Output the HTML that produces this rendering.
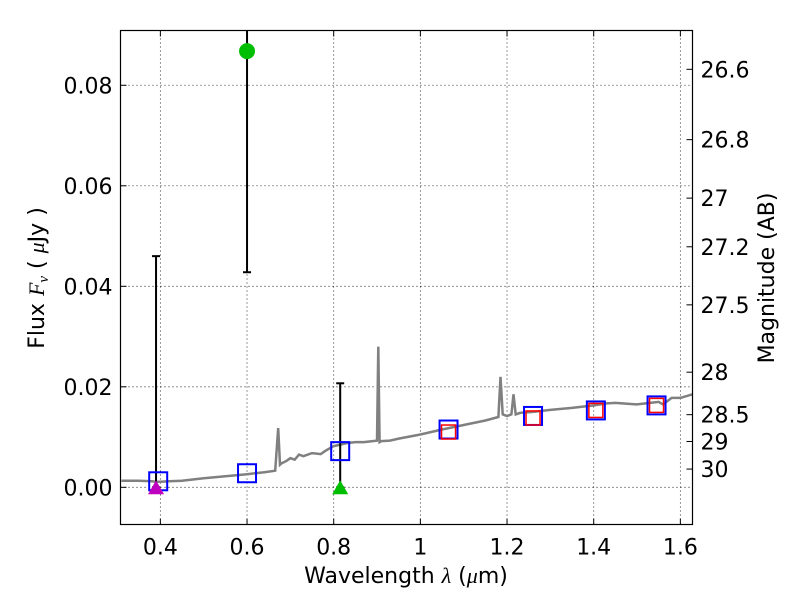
<!DOCTYPE html>
<html><head><meta charset="utf-8"><style>body{margin:0;background:#fff}svg{display:block}text{font-family:"DejaVu Sans","Liberation Sans",sans-serif;fill:#000}</style></head>
<body>
<svg id="chart" width="800" height="600" viewBox="0 0 800 600" xmlns="http://www.w3.org/2000/svg">
<rect width="800" height="600" fill="#fff"/>
<g id="grid"></g>
<g id="marks"></g>
<rect x="120.5" y="30.5" width="572" height="494" fill="none" stroke="#000" stroke-width="1.2"/>
<g id="axes"></g>
<text x="406" y="583" font-size="22" text-anchor="middle">Wavelength  <tspan font-style="italic" font-family="Liberation Serif,serif">λ</tspan> (<tspan font-style="italic" font-family="Liberation Serif,serif">μ</tspan>m)</text>
<text transform="translate(44,278) rotate(-90)" font-size="22" text-anchor="middle">Flux  <tspan font-style="italic" font-family="Liberation Serif,serif">F</tspan><tspan font-style="italic" font-family="Liberation Serif,serif" font-size="15" dy="4">ν</tspan><tspan dy="-4">  (  </tspan><tspan font-style="italic" font-family="Liberation Serif,serif">μ</tspan>Jy )</text>
<text transform="translate(774,278) rotate(-90)" font-size="22" text-anchor="middle">Magnitude (AB)</text>
</svg>
<script>
const NS="http://www.w3.org/2000/svg";
const xTicks=[0.4,0.6,0.8,1.0,1.2,1.4,1.6];
const xTickLabels=["0.4","0.6","0.8","1","1.2","1.4","1.6"];
const yTicks=[0,0.02,0.04,0.06,0.08];
const yTickLabels=["0.00","0.02","0.04","0.06","0.08"];
const magTicks=[26.6,26.8,27,27.2,27.5,28,28.5,29,30];
const magLabels=["26.6","26.8","27","27.2","27.5","28","28.5","29","30"];
const specWave=[0.31,0.35,0.38,0.39,0.4,0.42,0.45,0.5,0.55,0.6,0.64,0.665,0.672,0.676,0.68,0.69,0.7,0.71,0.72,0.73,0.75,0.77,0.78,0.8,0.83,0.85,0.87,0.9,0.903,0.906,0.91,0.93,0.95,1.0,1.05,1.1,1.15,1.18,1.185,1.19,1.2,1.21,1.215,1.22,1.23,1.26,1.3,1.35,1.4,1.43,1.45,1.5,1.53,1.55,1.56,1.58,1.6,1.628];
const specFlux=[0.0013,0.0013,0.0012,0.0011,0.0011,0.0012,0.0013,0.0018,0.0022,0.0026,0.003,0.0033,0.0118,0.0045,0.0048,0.0052,0.0058,0.0055,0.0065,0.0062,0.0068,0.0066,0.0072,0.0082,0.0088,0.009,0.009,0.0093,0.028,0.009,0.0092,0.0093,0.0097,0.0105,0.0115,0.0124,0.0133,0.014,0.022,0.0145,0.0142,0.0145,0.0185,0.0145,0.0148,0.015,0.0154,0.0158,0.0163,0.0167,0.0168,0.0165,0.0168,0.017,0.0165,0.0178,0.0178,0.0185];
const bandWave=[0.395,0.6,0.815,1.065,1.26,1.405,1.545];
const bandFlux=[0.0012,0.0028,0.0072,0.0115,0.0142,0.0153,0.0163];
const modelWave=[1.065,1.26,1.405,1.545];
const modelFlux=[0.011,0.0138,0.0153,0.0163];
const errWave=[0.39,0.6,0.815];
const errLow=[0,0.0428,0];
const errHigh=[0.046,0.1,0.0207];
const detWave=[0.6];const detFlux=[0.0868];
const limWave=[0.39,0.815];const limFlux=[0,0];const limColors=["#bf00bf","#00bf00"];
const X0=120.5,X1=692.5,Y0=30.5,Y1=524.5,xmin=0.308,xmax=1.628,ymin=-0.0074,ymax=0.0909;
const sx=v=>X0+(v-xmin)/(xmax-xmin)*(X1-X0);
const sy=v=>Y1-(v-ymin)/(ymax-ymin)*(Y1-Y0);
const magToFlux=m=>Math.pow(10,(23.9-m)/2.5);
function mk(tag,attrs,parent){const e=document.createElementNS(NS,tag);for(const k in attrs)e.setAttribute(k,attrs[k]);parent.appendChild(e);return e;}
const grid=document.getElementById('grid'),marks=document.getElementById('marks'),axes=document.getElementById('axes');
xTicks.forEach((t,i)=>{const x=sx(t);
 const g=mk('line',{x1:x,x2:x,y1:Y0,y2:Y1,stroke:'#000','stroke-width':0.8,'stroke-dasharray':'1,3'},grid);
 
 mk('line',{x1:x,x2:x,y1:Y1,y2:Y1-6,stroke:'#000'},axes);mk('line',{x1:x,x2:x,y1:Y0,y2:Y0+6,stroke:'#000'},axes);
 const l=mk('text',{x:x,y:Y1+30,'font-size':22,'text-anchor':'middle'},axes);l.textContent=xTickLabels[i];
 });
yTicks.forEach((t,i)=>{const y=sy(t);
 const g=mk('line',{x1:X0,x2:X1,y1:y,y2:y,stroke:'#000','stroke-width':0.8,'stroke-dasharray':'1,3'},grid);
 
 mk('line',{x1:X0,x2:X0+6,y1:y,y2:y,stroke:'#000'},axes);
 const l=mk('text',{x:X0-8,y:y+8,'font-size':22,'text-anchor':'end'},axes);l.textContent=yTickLabels[i];
 });
magTicks.forEach((m,i)=>{const y=sy(magToFlux(m));
 mk('line',{x1:X1,x2:X1-6,y1:y,y2:y,stroke:'#000'},axes);
 const l=mk('text',{x:X1+8,y:y+8,'font-size':22,'text-anchor':'start'},axes);l.textContent=magLabels[i];
 });
const pts=specWave.map((w,i)=>sx(w).toFixed(1)+','+sy(specFlux[i]).toFixed(1)).join(' ');
const sp=mk('polyline',{points:pts,fill:'none',stroke:'#808080','stroke-width':2.5},marks);

errWave.forEach((w,i)=>{const x=sx(w),ya=sy(errLow[i]),yb=Math.max(sy(errHigh[i]),Y0);
 const e=mk('line',{x1:x,x2:x,y1:ya,y2:yb,stroke:'#000','stroke-width':2},marks);
 
 mk('line',{x1:x-4,x2:x+4,y1:ya,y2:ya,stroke:'#000','stroke-width':2},marks);
 if(sy(errHigh[i])>Y0)mk('line',{x1:x-4,x2:x+4,y1:yb,y2:yb,stroke:'#000','stroke-width':2},marks);});
bandWave.forEach((w,i)=>{const r=mk('rect',{x:sx(w)-9,y:sy(bandFlux[i])-9,width:18,height:18,fill:'none',stroke:'#0000ff','stroke-width':2},marks);
 });
modelWave.forEach((w,i)=>{const r=mk('rect',{x:sx(w)-7,y:sy(modelFlux[i])-7,width:14,height:14,fill:'none',stroke:'#ff0000','stroke-width':1.5},marks);
 });
detWave.forEach((w,i)=>{const c=mk('circle',{cx:sx(w),cy:sy(detFlux[i]),r:8,fill:'#00bf00'},marks);
 });
limWave.forEach((w,i)=>{const x=sx(w),y=sy(limFlux[i]);
 const t=mk('polygon',{points:`${x-8},${y+7} ${x+8},${y+7} ${x},${y-7}`,fill:limColors[i]},marks);
 });
</script>
</body></html>
